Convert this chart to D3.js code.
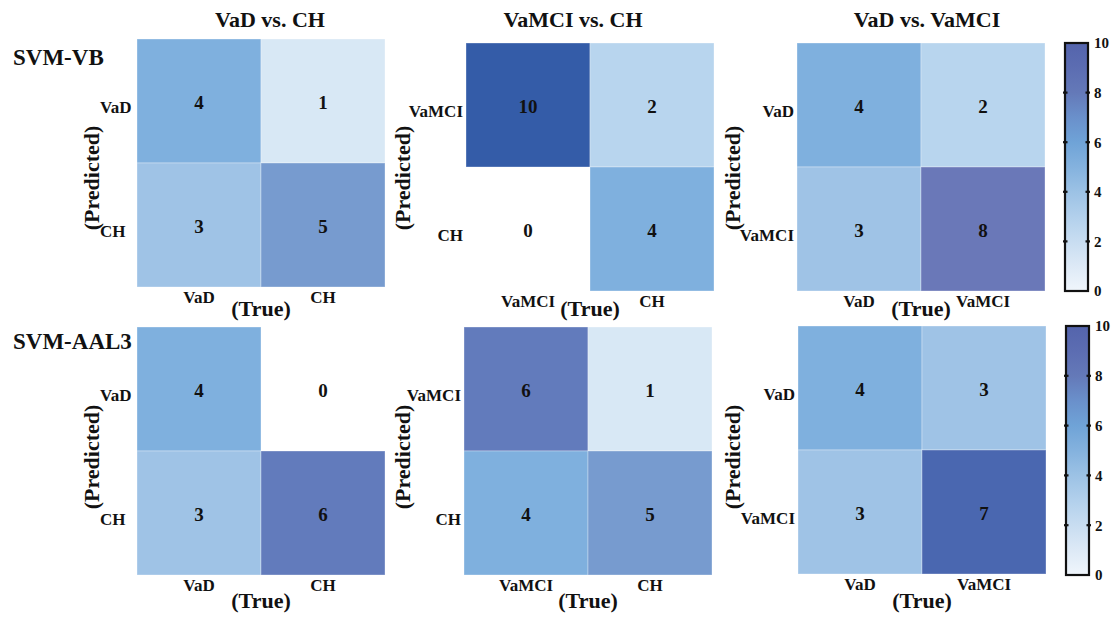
<!DOCTYPE html>
<html>
<head>
<meta charset="utf-8">
<script src="https://cdn.jsdelivr.net/npm/d3@7"></script>
<style>
  html, body { margin: 0; padding: 0; background: #fff; }
  svg { display: block; }
</style>
</head>
<body>
<script>
// ---------- data ----------
const panelTitles = ["VaD vs. CH", "VaMCI vs. CH", "VaD vs. VaMCI"];
const rowLabels = ["SVM-VB", "SVM-AAL3"];
const classLabels = [["VaD", "CH"], ["VaMCI", "CH"], ["VaD", "VaMCI"]];
// values[predicted][true]
const vbValues = [
  [[4, 1], [3, 5]],
  [[10, 2], [0, 4]],
  [[4, 2], [3, 8]]
];
const aal3Values = [
  [[4, 0], [3, 6]],
  [[6, 1], [4, 5]],
  [[4, 3], [3, 7]]
];
const colorbarTicks = [0, 2, 4, 6, 8, 10];
const cellColorDomain = [0, 1, 2, 3, 4, 5, 6, 7, 8, 10];
const cellColorRange = ["#ffffff", "#d8e8f5", "#b8d5ee", "#9fc3e6", "#7fb0de", "#779bcf", "#627bbc", "#4a67b0", "#6a78b8", "#345ca8"];
const colorbarStopValues = [0, 1, 2, 3, 4, 5, 6, 7, 8, 9, 10];
const colorbarStopColors = ["#f0f6fc", "#dde9f6", "#c8ddf1", "#b2d0ec", "#9cc2e5", "#84b2de", "#6fa3d7", "#6a90cb", "#6479b8", "#5c6db2", "#5464ac"];

// ---------- layout ----------
const FONT = "'Liberation Serif', 'Times New Roman', Tinos, Times, 'DejaVu Serif', serif";
const W = 1118, H = 617;
const size = 248;
const layout = [
  [{x: 137, y: 39}, {x: 466, y: 43}, {x: 797, y: 43}],
  [{x: 137, y: 327}, {x: 464, y: 327}, {x: 798, y: 326}]
];
const titleX = [270, 573, 927];
const predX = [99, 410, 740];
const predY = [178, 457];
const trueY = [316, 608];
const rowLabelY = [65, 349];
const colorbars = [{x: 1065, y0: 43, y1: 291}, {x: 1066, y0: 326, y1: 575}];

const color = d3.scaleLinear().domain(cellColorDomain).range(cellColorRange);
const cbColor = d3.scaleLinear().domain(colorbarStopValues).range(colorbarStopColors);

const svg = d3.select("body").append("svg").attr("width", W).attr("height", H)
  .attr("font-family", FONT).attr("font-weight", "bold");

function styleText(sel, size) {
  return sel.style("font-family", FONT).style("font-weight", "bold")
    .style("font-size", size + "px").attr("fill", "#111");
}

// titles
panelTitles.forEach((t, i) => {
  styleText(svg.append("text").attr("x", titleX[i]).attr("y", 27)
    .attr("text-anchor", "middle").text(t), 22);
});

// row labels
rowLabels.forEach((t, r) => {
  styleText(svg.append("text").attr("x", 13).attr("y", rowLabelY[r]).text(t), 23);
});

const allValues = [vbValues, aal3Values];

allValues.forEach((rowVals, r) => {
  rowVals.forEach((mat, c) => {
    const L = layout[r][c];
    const labels = classLabels[c];
    const xs = d3.scaleBand().domain(labels).range([L.x, L.x + size]);
    const ys = d3.scaleBand().domain(labels).range([L.y, L.y + size]);
    const g = svg.append("g");

    const cells = [];
    labels.forEach((pred, i) => labels.forEach((tru, j) => {
      cells.push({pred, tru, v: mat[i][j]});
    }));

    g.selectAll("rect.cell").data(cells).enter().append("rect")
      .attr("class", "cell")
      .attr("x", d => xs(d.tru)).attr("y", d => ys(d.pred))
      .attr("width", xs.bandwidth()).attr("height", ys.bandwidth())
      .attr("fill", d => color(d.v))
      .attr("stroke", d => d.v === 0 ? "none" : "#ffffff")
      .attr("stroke-opacity", 0.4).attr("stroke-width", 0.8);

    styleText(g.selectAll("text.val").data(cells).enter().append("text")
      .attr("class", "val")
      .attr("x", d => xs(d.tru) + xs.bandwidth() / 2)
      .attr("y", d => ys(d.pred) + ys.bandwidth() / 2 + 8)
      .attr("text-anchor", "middle")
      .text(d => d.v), 19);

    // x axis
    const xa = g.append("g").attr("transform", `translate(0,${L.y + size})`)
      .call(d3.axisBottom(xs).tickSize(0).tickPadding(0));
    xa.select(".domain").remove();
    styleText(xa.selectAll("text").attr("y", 16).attr("dy", null), 17);

    // y axis
    const ya = g.append("g").attr("transform", `translate(${L.x},0)`)
      .call(d3.axisLeft(ys).tickSize(0).tickPadding(0));
    ya.select(".domain").remove();
    styleText(ya.selectAll("text").attr("dy", null).attr("y", 12), 17);
    if (c === 0) {
      ya.selectAll("text").attr("text-anchor", "start").attr("x", 100 - L.x);
    } else {
      ya.selectAll("text").attr("text-anchor", "end").attr("x", -3);
    }

    // axis titles
    styleText(svg.append("text").attr("transform", `translate(${predX[c]},${predY[r]}) rotate(-90)`)
      .attr("text-anchor", "middle").text("(Predicted)"), 22);
    styleText(svg.append("text").attr("x", L.x + size / 2).attr("y", trueY[r])
      .attr("text-anchor", "middle").text("(True)"), 22);
  });
});

// colorbars
const defs = svg.append("defs");
const grad = defs.append("linearGradient").attr("id", "cbgrad")
  .attr("x1", 0).attr("y1", 1).attr("x2", 0).attr("y2", 0);
grad.selectAll("stop").data(colorbarStopValues).enter().append("stop")
  .attr("offset", d => d / 10).attr("stop-color", d => cbColor(d));

colorbars.forEach(cb => {
  const cw = 23;
  const s = d3.scaleLinear().domain([0, 10]).range([cb.y1, cb.y0]);
  svg.append("rect").attr("x", cb.x).attr("y", cb.y0).attr("width", cw).attr("height", cb.y1 - cb.y0)
    .attr("fill", "url(#cbgrad)").attr("stroke", "#111").attr("stroke-width", 2.2);
  const inner = colorbarTicks.filter(t => t > 0 && t < 10);
  svg.selectAll(null).data(inner).enter().append("line")
    .attr("x1", cb.x - 2).attr("x2", cb.x + 2.5).attr("y1", d => s(d)).attr("y2", d => s(d))
    .attr("stroke", "#111").attr("stroke-width", 2.2);
  svg.selectAll(null).data(inner).enter().append("line")
    .attr("x1", cb.x + cw - 2.5).attr("x2", cb.x + cw + 2).attr("y1", d => s(d)).attr("y2", d => s(d))
    .attr("stroke", "#111").attr("stroke-width", 2.2);
  const ax = svg.append("g").attr("transform", `translate(${cb.x + cw},0)`)
    .call(d3.axisRight(s).tickValues(colorbarTicks).tickSize(0).tickPadding(6).tickFormat(d3.format("d")));
  ax.select(".domain").remove();
  styleText(ax.selectAll("text"), 15);
});
</script>
</body>
</html>
